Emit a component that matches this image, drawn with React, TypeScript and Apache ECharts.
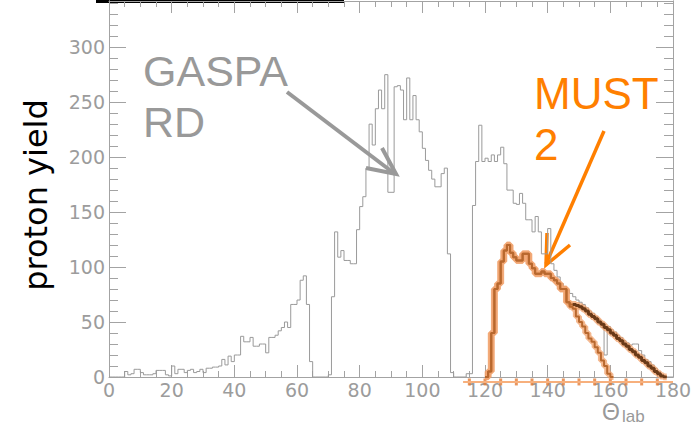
import React, { useEffect, useRef } from "react";
import * as echarts from "echarts";

// GASPARD proton yield histogram, 1-degree bins starting at 0 deg
const grayStart = 0;
const grayCounts: number[] = [
  0, 0, 0, 0, 0,
  5, 2, 3, 7, 7,
  4, 2, 2, 2, 3,
  6, 6, 6, 2, 1,
  10, 3, 7, 7, 4,
  6, 7, 4, 5, 7,
  4, 8, 8, 9, 9,
  10, 16, 11, 19, 14,
  20, 20, 37, 32, 32,
  36, 28, 28, 30, 30,
  22, 36, 36, 38, 42,
  45, 50, 45, 66, 66,
  70, 88, 92, 66, 14,
  0, 0, 0, 0, 0,
  2, 73, 132, 109, 115,
  106, 106, 103, 103, 134,
  155, 164, 190, 230, 211,
  244, 261, 244, 275, 168,
  168, 264, 265, 261, 234,
  272, 234, 256, 234, 223,
  208, 197, 188, 180, 173,
  173, 185, 190, 112, 4,
  0, 0, 0, 0, 3,
  3, 156, 196, 229, 196,
  199, 196, 202, 196, 202,
  209, 194, 170, 170, 158,
  157, 167, 158, 143, 143,
  132, 146, 132, 112, 112,
  135, 103, 97, 91, 85,
  82, 79, 76, 73, 70,
  68, 66, 63, 60, 58,
  55, 52, 45, 20, 46,
  43, 41, 38, 36, 33,
  31, 29, 30, 30, 24,
  20, 16, 14, 11, 8,
  5, 2, 0, 0, 0,
];

// MUST2 histograms, 1-degree bins starting at 120 deg
const mustStart = 120;
const mustA: number[] = [
  0, 5, 40, 80, 85,
  105, 115, 120, 113, 109,
  106, 106, 112, 112, 103,
  99, 94, 94, 96, 94,
  94, 90, 88, 85, 80,
  80, 68, 64, 62, 55,
  50, 46, 40, 35, 32,
  27, 22, 15, 10, 3,
  0,
];
const mustB: number[] = [
  0, 5, 40, 80, 85,
  105, 115, 120, 113, 109,
  106, 106, 112, 112, 103,
  99, 94, 94, 96, 94,
  94, 90, 88, 85, 80,
  80, 68, 66, 66, 65,
  64, 62, 60, 57, 55,
  53, 50, 48, 45, 43,
  40, 38, 35, 33, 30,
  28, 25, 23, 20, 18,
  15, 13, 10, 8, 5,
  3, 1, 0,
];
const mustTailFrom = 148;
const baselineRange: number[] = [113, 180];
const baselineValue = -4.5;
const baselineMarks: number[] = [115, 120, 125, 130, 135, 140, 145, 150, 155, 160, 165, 170, 175];

function toSteps(start: number, vals: number[]): number[][] {
  const pts = vals.map((v, i) => [start + i, v]);
  pts.push([start + vals.length, 0]);
  return pts;
}

const axisColor = "#a3a3a3";
const labelColor = "#9c9c9c";
const tickFont = "DejaVu Sans";

function xAx(position: "bottom" | "top", labels: boolean) {
  return {
    type: "value",
    position,
    min: 0,
    max: 180,
    interval: 20,
    axisLine: { show: true, onZero: false, lineStyle: { color: axisColor, width: 1 } },
    axisTick: { show: true, inside: true, length: 12, lineStyle: { color: axisColor } },
    minorTick: { show: true, splitNumber: 4, length: 6, lineStyle: { color: axisColor } },
    splitLine: { show: false },
    axisLabel: labels
      ? { show: true, color: labelColor, fontSize: 19, lineHeight: 16, fontFamily: tickFont, margin: 5 }
      : { show: false },
  };
}

function yAx(position: "left" | "right", major: boolean, labels: boolean) {
  return {
    type: "value",
    position,
    min: 0,
    max: 342,
    interval: major ? 50 : 10,
    axisLine: { show: true, onZero: false, lineStyle: { color: axisColor, width: 1 } },
    axisTick: { show: true, inside: true, length: major ? 17 : 9, lineStyle: { color: axisColor } },
    splitLine: { show: false },
    axisLabel: labels
      ? { show: true, color: labelColor, fontSize: 19, lineHeight: 10, fontFamily: tickFont, margin: 4, showMaxLabel: false }
      : { show: false },
  };
}

export default function App() {
  const ref = useRef<HTMLDivElement>(null);
  useEffect(() => {
    if (!ref.current) return;
    const chart = echarts.init(ref.current, null, { renderer: "svg" });
    const haloColor = "rgba(240,160,105,0.75)";
    const coreColor = "#b8682e";
    const option: any = {
      animation: false,
      backgroundColor: "#ffffff",
      grid: { left: 109, right: 25, top: 1, bottom: 53, containLabel: false },
      xAxis: [xAx("bottom", true), xAx("top", false)],
      yAxis: [yAx("left", true, true), yAx("left", false, false), yAx("right", true, false), yAx("right", false, false)],
      series: [
        {
          type: "line", name: "GASPARD", step: "end", showSymbol: false, symbol: "none",
          data: toSteps(grayStart, grayCounts),
          lineStyle: { color: "#9a9a9a", width: 1 },
        },
        {
          type: "line", name: "baseline", showSymbol: false, symbol: "none", clip: false,
          data: [[baselineRange[0], baselineValue], [baselineRange[1], baselineValue]],
          lineStyle: { color: "#f7b07d", width: 2 },
        },
        {
          type: "scatter", name: "marks", symbol: "rect", symbolSize: [3, 7], clip: false,
          data: baselineMarks.map((x) => [x, baselineValue]),
          itemStyle: { color: "#e47a35" },
        },
        {
          type: "line", name: "A halo", step: "end", showSymbol: false, symbol: "none",
          data: toSteps(mustStart, mustA),
          lineStyle: { color: haloColor, width: 6 },
        },
        {
          type: "line", name: "B halo", step: "end", showSymbol: false, symbol: "none",
          data: toSteps(mustStart, mustB),
          lineStyle: { color: haloColor, width: 7 },
        },
        {
          type: "line", name: "A", step: "end", showSymbol: false, symbol: "none",
          data: toSteps(mustStart, mustA),
          lineStyle: { color: coreColor, width: 2 },
        },
        {
          type: "line", name: "B", step: "end", showSymbol: false, symbol: "none",
          data: toSteps(mustStart, mustB),
          lineStyle: { color: coreColor, width: 2 },
        },
        {
          type: "line", name: "B tail", step: "end", showSymbol: false, symbol: "none",
          data: toSteps(mustTailFrom, mustB.slice(mustTailFrom - mustStart)),
          lineStyle: { color: "#6a3a18", width: 3 },
        },
      ],
      graphic: [
        { type: "rect", shape: { x: 96, y: 0, width: 248, height: 3 }, style: { fill: "#000" }, silent: true },
        {
          type: "text", x: 36, y: 195, rotation: Math.PI / 2,
          style: { text: "proton yield", font: "32px 'DejaVu Sans'", fill: "#000", align: "center", verticalAlign: "middle" },
        },
        {
          type: "text", x: 143, y: 45,
          style: { text: "GASPA\nRD", font: "43px 'Liberation Sans'", fill: "#999999", lineHeight: 51 },
        },
        {
          type: "text", x: 534, y: 68,
          style: { text: "MUST\n2", font: "44px 'Liberation Sans'", fill: "#ff7f00", lineHeight: 51 },
        },
        { type: "line", shape: { x1: 287, y1: 92, x2: 395, y2: 174 }, style: { stroke: "#999999", lineWidth: 4 } },
        {
          type: "polyline", shape: { points: [[366, 168], [396, 174], [382, 148]] },
          style: { stroke: "#999999", lineWidth: 4, fill: null },
        },
        { type: "line", shape: { x1: 604, y1: 131, x2: 546, y2: 264 }, style: { stroke: "#ff7f00", lineWidth: 3.5 } },
        {
          type: "polyline", shape: { points: [[547, 233], [546, 265], [570, 245]] },
          style: { stroke: "#ff7f00", lineWidth: 3.5, fill: null },
        },
        {
          type: "text", x: 602, y: 404,
          style: { text: "Θ", font: "23px 'Liberation Sans'", fill: "#999999", lineHeight: 16 },
        },
        {
          type: "text", x: 622, y: 408,
          style: { text: "lab", font: "17px 'Liberation Sans'", fill: "#999999", lineHeight: 16 },
        },
      ],
    };
    chart.setOption(option);
    return () => chart.dispose();
  }, []);
  return (
    <div
      ref={ref}
      style={{ position: "fixed", left: 0, top: 0, width: 698, height: 430, background: "#fff" }}
    />
  );
}
